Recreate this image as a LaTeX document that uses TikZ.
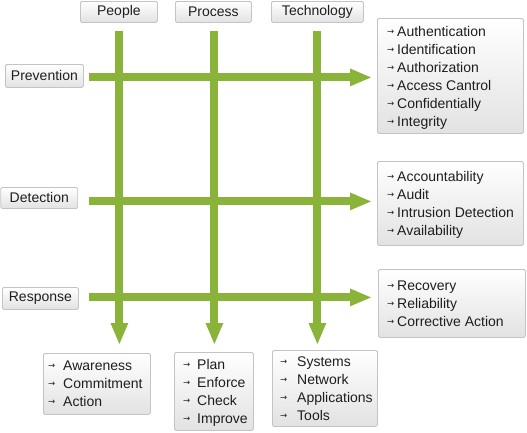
\documentclass[tikz,border=0pt]{standalone}
\usepackage{fontspec}
\setmainfont{Liberation Sans}
\newfontfamily\djv{DejaVu Sans}
\usetikzlibrary{arrows.meta}
\definecolor{grn}{RGB}{138,179,58}
\definecolor{bord}{RGB}{196,196,196}
\definecolor{shd}{RGB}{226,226,226}
\definecolor{txt}{RGB}{30,30,30}
\newcommand\bu[1]{\makebox[#1][l]{\strut\raisebox{1.5pt}{\fontsize{8.5}{8.5}\selectfont\djv →}}}
\begin{document}
\begin{tikzpicture}[x=1pt,y=-1pt,
  box/.style={draw=bord, line width=0.8pt, rounded corners=1.5pt, top color=white, bottom color=shd, inner sep=0pt, anchor=north west},
  hdr/.style={box, font=\fontsize{14}{16}\selectfont, text=txt},
  lst/.style={inner sep=0pt, anchor=west, align=left, font=\fontsize{14}{18}\selectfont, text=txt},
  garrow/.style={draw=grn, line width=8pt, -{Triangle[length=22pt,width=16pt]}}]
\fill[white] (0,0) rectangle (527,432);
\useasboundingbox (0,0) rectangle (527,432);
% headers
\node[hdr, minimum width=77pt, minimum height=21pt] (peo) at (80,1) {People};
\node[hdr, minimum width=76pt, minimum height=21pt] (pro) at (175,1) {Process};
\node[hdr, minimum width=92pt, minimum height=21pt] (tec) at (271,1) {Technology};
\node[hdr, minimum width=78pt, minimum height=23pt] (prev) at (5,64) {Prevention};
\node[hdr, minimum width=77pt, minimum height=21pt] (det) at (0.4,187) {Detection};
\node[hdr, minimum width=76pt, minimum height=22pt] (resp) at (2,287) {Response};
% list boxes
\node[box, minimum width=146pt, minimum height=115pt] (plist) at (377,18) {};
\node[box, minimum width=146pt, minimum height=84pt] (dlist) at (377,161) {};
\node[box, minimum width=147pt, minimum height=68pt] (rlist) at (378,269) {};
\node[box, minimum width=107pt, minimum height=61pt] (peol) at (43,353) {};
\node[box, minimum width=79pt, minimum height=78pt] (prol) at (174,352) {};
\node[box, minimum width=105pt, minimum height=76pt] (tecl) at (272,350) {};
% list texts
\node[lst] (plistt) at ([shift={(10pt,-1.5pt)}]plist.west) {\bu{10pt}Authentication\\\bu{10pt}Identification\\\bu{10pt}Authorization\\\bu{10pt}Access Cantrol\\\bu{10pt}Confidentially\\\bu{10pt}Integrity};
\node[lst] (dlistt) at ([shift={(10pt,-1pt)}]dlist.west) {\bu{10pt}Accountability\\\bu{10pt}Audit\\\bu{10pt}Intrusion Detection\\\bu{10pt}Availability};
\node[lst] (rlistt) at ([shift={(9pt,-1pt)}]rlist.west) {\bu{10pt}Recovery\\\bu{10pt}Reliability\\\bu{10pt}Corrective Action};
\node[lst] (peolt) at ([shift={(5pt,-0.5pt)}]peol.west) {\bu{15pt}Awareness\\\bu{15pt}Commitment\\\bu{15pt}Action};
\node[lst] (prolt) at ([shift={(9pt,-1pt)}]prol.west) {\bu{14pt}Plan\\\bu{14pt}Enforce\\\bu{14pt}Check\\\bu{14pt}Improve};
\node[lst] (teclt) at ([shift={(8pt,-1pt)}]tecl.west) {\bu{17pt}Systems\\\bu{17pt}Network\\\bu{17pt}Applications\\\bu{17pt}Tools};
% arrows
\draw[garrow] ([shift={(5pt,-1.5pt)}]prev.east) -- ([shift={(-5pt,-1.5pt)}]prev.east -| plist.west);
\draw[garrow] ([shift={(11pt,-3.5pt)}]det.east) -- ([shift={(-5pt,-3.5pt)}]det.east -| dlist.west);
\draw[garrow] ([shift={(10pt,1pt)}]resp.east) -- ([shift={(-6pt,1pt)}]resp.east -| rlist.west);
\draw[garrow] ([shift={(0.5pt,-8pt)}]peo.south) -- ([shift={(0.5pt,8pt)}]peo.south |- peol.north);
\draw[garrow] ([shift={(1pt,-8pt)}]pro.south) -- ([shift={(1pt,7pt)}]pro.south |- prol.north);
\draw[garrow] ([shift={(0pt,-8pt)}]tec.south) -- ([shift={(0pt,5pt)}]tec.south |- tecl.north);
\end{tikzpicture}
\end{document}
